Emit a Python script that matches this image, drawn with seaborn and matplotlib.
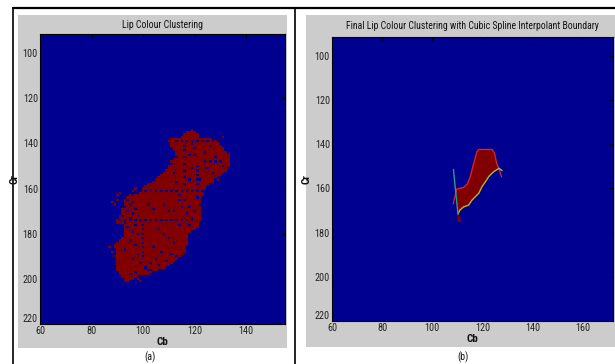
import matplotlib
matplotlib.use("Agg")
import matplotlib.pyplot as plt
import seaborn as sns
import numpy as np
import pandas as pd
from matplotlib import font_manager
from matplotlib.colors import ListedColormap
from matplotlib.patches import Rectangle
from matplotlib.lines import Line2D

# ---------------- data ----------------
# Panel (a): lip-colour cluster, per Cr row: first and last Cb of the filled run
row_cr = list(range(135, 202))
row_start = [117, 116, 115, 111, 110, 111, 111, 112, 112, 113, 113, 113, 112, 111, 111, 110, 110,
             109, 108, 107, 106, 105, 104, 102, 101, 100, 100, 99, 97, 95, 93, 93, 93, 93, 92, 92,
             92, 91, 91, 90, 90, 93, 93, 93, 93, 93, 92, 92, 91, 90, 89, 89, 90, 90, 90, 90, 90, 90,
             90, 90, 90, 90, 91, 91, 92, 93, 93]
row_end = [119, 120, 121, 126, 128, 129, 130, 131, 131, 132, 133, 133, 133, 133, 133, 133, 132,
           132, 131, 130, 128, 127, 126, 125, 124, 124, 123, 123, 123, 122, 122, 122, 122, 122, 122,
           122, 122, 122, 122, 122, 121, 121, 121, 120, 118, 117, 117, 117, 117, 117, 117, 116, 116,
           116, 115, 114, 113, 112, 111, 110, 108, 105, 103, 102, 97, 96, 94]
# empty cells inside the runs (Cb, Cr)
hole_cb = [113, 115, 117, 119, 121, 123, 125, 127, 129,
           116, 116, 116, 116, 116, 116, 121, 121, 121, 121, 121,
           101, 103, 105, 107, 109, 111, 113, 115, 117, 119, 121, 123,
           91, 93, 95, 97, 99, 101, 103, 105, 107, 109, 111, 113, 115, 117, 119,
           100, 100, 100, 100, 100, 100, 100, 100,
           94, 96, 95, 93, 97, 94, 96, 92, 98, 95, 93, 97, 94, 91, 96, 98, 92, 95, 97, 93,
           106, 108, 110, 112, 104, 107, 111, 113, 105, 109, 103, 106, 110, 102, 108, 112,
           118, 120, 124, 126, 128, 130, 119, 125, 127, 131, 118, 122, 128, 124, 120, 126,
           114, 118, 112, 110, 108, 114, 104, 102, 98, 96, 99, 101, 103, 97, 95, 100,
           121, 122, 120, 119, 118, 116, 114, 113, 117, 115, 112, 111, 113, 116, 119, 123]
hole_cr = [139, 139, 139, 139, 139, 139, 139, 139, 139,
           143, 146, 149, 152, 155, 158, 150, 152, 154, 156, 158,
           161, 161, 161, 161, 161, 161, 161, 161, 161, 161, 161, 161,
           174, 174, 174, 174, 174, 174, 174, 174, 174, 174, 174, 174, 174, 174, 174,
           176, 178, 180, 182, 184, 186, 188, 190,
           165, 166, 167, 168, 169, 170, 171, 172, 172, 173, 175, 176, 177, 178, 179, 180, 181,
           183, 185, 187,
           178, 180, 182, 184, 186, 188, 189, 190, 191, 192, 193, 194, 195, 196, 197, 197,
           145, 145, 148, 148, 148, 148, 151, 151, 153, 150, 156, 156, 146, 144, 142, 141,
           165, 168, 170, 170, 167, 176, 169, 167, 189, 191, 193, 195, 196, 197, 198, 199,
           164, 167, 170, 173, 176, 165, 163, 157, 171, 168, 153, 149, 146, 141, 140, 137]
# isolated stray cells around the cluster (Cb, Cr)
extra_cb = [88, 89, 90, 90, 91, 92, 94, 95, 96, 97, 87, 88, 89, 110, 109, 108, 118, 124, 127, 129,
            131, 120, 119, 121, 98, 99]
extra_cr = [166, 167, 165, 163, 162, 170, 164, 163, 161, 160, 186, 188, 190, 175, 177, 179, 178,
            160, 157, 156, 137, 135, 134, 136, 200, 201]

# Panel (b): final cluster boundaries
upper_cb = [108.3, 109.7, 112.4, 114.0, 115.1, 116.5, 117.8, 118.5, 123.8, 124.8, 125.6, 126.6, 127.6]
upper_cr = [167.0, 160.3, 159.6, 158.0, 154.8, 148.6, 143.3, 142.4, 142.4, 144.2, 148.6, 151.5, 154.8]
lower_cb = [110.2, 111.0, 112.4, 114.4, 115.8, 117.1, 118.5, 119.8, 121.2, 122.5, 124.5, 126.6, 127.8]
lower_cr = [171.5, 169.8, 168.4, 167.6, 165.3, 163.8, 162.2, 159.2, 156.9, 154.6, 152.4, 150.9, 152.0]
tip_cb = [110.4, 111.2]
tip_cr = [174.8, 174.8]
teal_cb = [108.4, 110.2]
teal_cr = [151.4, 171.5]

x_ticks_a = [60, 80, 100, 120, 140]
x_ticks_b = [60, 80, 100, 120, 140, 160]
y_ticks = [100, 120, 140, 160, 180, 200, 220]

# ---------------- style ----------------
BLUE = "#000090"
DRED = "#800000"
GREY = "#cccccc"
W, H = 615, 364

sns.set_style("white")

# pick a narrow sans font if one is installed
available = {f.name for f in font_manager.fontManager.ttflist}
narrow = None
for cand in ["Liberation Sans Narrow", "Arial Narrow", "Roboto Condensed", "Open Sans Condensed"]:
    if cand in available:
        narrow = cand
        break
if narrow is not None:
    plt.rcParams["font.family"] = [narrow, "DejaVu Sans"]
    TS, KS, LS, CS = 7.0, 7.3, 8, 7.3
else:
    plt.rcParams["font.family"] = ["Liberation Sans", "DejaVu Sans"]
    TS, KS, LS, CS = 6.2, 6.0, 7.5, 6.5

fig = plt.figure(figsize=(W / 100, H / 100), dpi=100, facecolor="white")


def fx(px):
    return px / W


def fy(py):
    return 1 - py / H


# grey panels and black frame lines (behind the axes)
fig.patches.append(Rectangle((fx(18), fy(348)), fx(287) - fx(18), fy(15) - fy(348),
                             transform=fig.transFigure, facecolor=GREY, edgecolor="none", zorder=-2))
fig.patches.append(Rectangle((fx(306), fy(347)), fx(615) - fx(306), fy(15) - fy(347),
                             transform=fig.transFigure, facecolor=GREY, edgecolor="none", zorder=-2))
fig.lines.append(Line2D([fx(13), fx(615)], [fy(8), fy(8)], transform=fig.transFigure,
                        color="black", lw=1.6, zorder=-1))
fig.lines.append(Line2D([fx(13), fx(13)], [fy(8), fy(364)], transform=fig.transFigure,
                        color="black", lw=1.2, zorder=-1))
fig.lines.append(Line2D([fx(295), fx(295)], [fy(8), fy(364)], transform=fig.transFigure,
                        color="black", lw=1.2, zorder=-1))


def style_axes(ax, xt, xlim):
    ax.set_facecolor(BLUE)
    ax.set_xlim(*xlim)
    ax.set_ylim(220, 91.5)
    ax.set_xticks(xt)
    ax.set_yticks(y_ticks)
    ax.set_xticklabels([str(v) for v in xt])
    ax.set_yticklabels([str(v) for v in y_ticks])
    ax.tick_params(direction="in", length=3, width=0.6, color="black", labelsize=KS,
                   labelcolor="#222222", top=True, right=True, pad=1.5)
    # MATLAB puts the bottom y label just above the corner
    ax.get_yticklabels()[-1].set_va("bottom")
    for s in ax.spines.values():
        s.set_visible(True)
        s.set_color("black")
        s.set_linewidth(0.8)
    ax.set_xlabel("Cb", fontsize=LS, fontweight="bold", labelpad=1, color="#111111")
    ax.set_ylabel("Cr", fontsize=LS, fontweight="bold", labelpad=2, color="#111111")
    ax.grid(False)


# ---------------- panel (a) ----------------
holes = set(zip(hole_cb, hole_cr))
cells_cb, cells_cr = [], []
for cr, a, b in zip(row_cr, row_start, row_end):
    for cb in range(a, b + 1):
        if (cb, cr) not in holes:
            cells_cb.append(cb)
            cells_cr.append(cr)
cells_cb += extra_cb
cells_cr += extra_cr
df_a = pd.DataFrame({"Cb": cells_cb, "Cr": cells_cr})

ax1 = fig.add_axes([fx(40), fy(324), fx(285) - fx(40), fy(34) - fy(324)])
sns.histplot(data=df_a, x="Cb", y="Cr", discrete=(True, True), ax=ax1,
             cmap=ListedColormap([DRED]), cbar=False)
style_axes(ax1, x_ticks_a, (60, 155))
ax1.set_title("Lip Colour Clustering", fontsize=TS, color="#111111", pad=4)

# ---------------- panel (b) ----------------
ax2 = fig.add_axes([fx(332), fy(321), fx(613) - fx(332), fy(37) - fy(321)])
poly_cb = upper_cb[1:12] + lower_cb[::-1][1:] + tip_cb[::-1]
poly_cr = upper_cr[1:12] + lower_cr[::-1][1:] + tip_cr[::-1]
ax2.fill(poly_cb, poly_cr, color=DRED, zorder=2)
sns.lineplot(x=upper_cb, y=upper_cr, sort=False, estimator=None, ax=ax2,
             color="#d8262e", lw=0.9, zorder=3)
sns.lineplot(x=lower_cb, y=lower_cr, sort=False, estimator=None, ax=ax2,
             color="#a8b830", lw=1.0, zorder=4)
sns.lineplot(x=teal_cb, y=teal_cr, sort=False, estimator=None, ax=ax2,
             color="#2a9a8a", lw=1.0, zorder=4)
style_axes(ax2, x_ticks_b, (60, 172))
ax2.set_title("Final Lip Colour Clustering with Cubic Spline Interpolant Boundary",
              fontsize=TS, color="#111111", pad=6)

# panel captions
fig.text(fx(150), fy(357), "(a)", ha="center", va="center", fontsize=CS, color="#111111")
fig.text(fx(463), fy(357), "(b)", ha="center", va="center", fontsize=CS, color="#111111")

fig.savefig("out.png", dpi=100, facecolor="white")
